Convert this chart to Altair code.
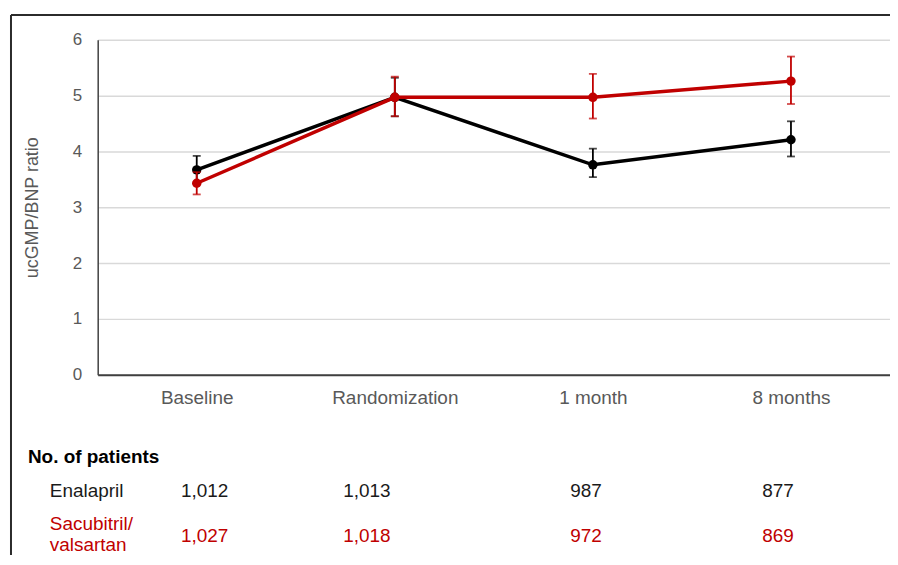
import altair as alt
import pandas as pd

# ---- data ----
timepoints = ["Baseline", "Randomization", "1 month", "8 months"]
groups = ["Enalapril", "Sacubitril/valsartan"]
colors = ["#000000", "#c00000"]

enal_mean = [3.67, 4.97, 3.76, 4.21]
enal_lo = [3.43, 4.63, 3.54, 3.91]
enal_hi = [3.92, 5.32, 4.05, 4.54]

sv_mean = [3.43, 4.97, 4.97, 5.26]
sv_lo = [3.23, 4.63, 4.59, 4.85]
sv_hi = [3.63, 5.34, 5.39, 5.70]

enal_n = ["1,012", "1,013", "987", "877"]
sv_n = ["1,027", "1,018", "972", "869"]

table_title = "No. of patients"
row_labels = ["Enalapril", "Sacubitril/\nvalsartan"]
y_ticks = [0, 1, 2, 3, 4, 5, 6]

# ---- build tables ----
rows = []
for g, m, lo, hi, n in [
    (groups[0], enal_mean, enal_lo, enal_hi, enal_n),
    (groups[1], sv_mean, sv_lo, sv_hi, sv_n),
]:
    for i, t in enumerate(timepoints):
        rows.append({"time": t, "group": g, "mean": m[i], "lo": lo[i], "hi": hi[i], "n": n[i]})
df = pd.DataFrame(rows)

FONT = "Liberation Sans"
W, H = 795, 336
GRAY = "#595959"

xenc = alt.X(
    "time:N",
    sort=timepoints,
    scale=alt.Scale(type="point", domain=timepoints, padding=0.5),
    axis=alt.Axis(
        title=None, labelAngle=0, ticks=False, grid=False,
        domainColor="#404040", domainWidth=2,
        labelFontSize=19, labelColor=GRAY, labelPadding=14, labelFont=FONT,
    ),
)

def yenc(field):
    return alt.Y(
        f"{field}:Q",
        scale=alt.Scale(domain=[0, 6], nice=False),
        axis=alt.Axis(
            title="ucGMP/BNP ratio", values=y_ticks, ticks=False,
            grid=True, gridColor="#d9d9d9", gridWidth=1.5,
            domainColor="#404040", domainWidth=1.5,
            labelFontSize=17, labelColor=GRAY, labelPadding=16, labelFont=FONT,
            titleFontSize=18, titleColor=GRAY, titleFontWeight="normal", titleFont=FONT,
            titleAngle=270, titleX=-65, titleY=H / 2, titleAlign="center", titleBaseline="middle",
        ),
    )

base = alt.Chart(df)
layers = []
for g, c in zip(groups, colors):
    sub = base.transform_filter(alt.datum.group == g)
    layers.append(
        sub.mark_rule(color=c, strokeWidth=1.8).encode(x=xenc, y=yenc("lo"), y2="hi:Q")
    )
    layers.append(
        sub.mark_tick(color=c, size=8, thickness=1.8, orient="horizontal").encode(x=xenc, y=yenc("lo"))
    )
    layers.append(
        sub.mark_tick(color=c, size=8, thickness=1.8, orient="horizontal").encode(x=xenc, y=yenc("hi"))
    )
    layers.append(
        sub.mark_line(color=c, strokeWidth=3.5).encode(x=xenc, y=yenc("mean"))
    )
    layers.append(
        sub.mark_point(color=c, filled=True, opacity=1, size=90).encode(x=xenc, y=yenc("mean"))
    )

# ---- patient-number table below the plot ----
num_dx = [8, -28, -7, -13]   # column offsets (layout)
row_y = [453, 498]           # row centres (layout)
label_y = [453, 486]         # first-line centres of the row labels (layout)
for gi, (g, c) in enumerate(zip(groups, colors)):
    for ti, t in enumerate(timepoints):
        layers.append(
            base.transform_filter((alt.datum.group == g) & (alt.datum.time == t))
            .mark_text(font=FONT, fontSize=19, color=c if gi else "#1a1a1a", baseline="middle", dx=num_dx[ti])
            .encode(x=xenc, y=alt.value(row_y[gi]), text="n:N")
        )

layers.append(
    alt.Chart(pd.DataFrame({"t": [table_title]}))
    .mark_text(font=FONT, fontSize=19, fontWeight="bold", color="#000000", align="left", baseline="middle")
    .encode(x=alt.value(-70), y=alt.value(419), text="t:N")
)
for gi, (lab, c) in enumerate(zip(row_labels, colors)):
    layers.append(
        alt.Chart(pd.DataFrame({"t": [lab]}))
        .mark_text(font=FONT, fontSize=19, color=c if gi else "#1a1a1a", align="left",
                   baseline="middle", lineBreak="\n", lineHeight=21)
        .encode(x=alt.value(-48), y=alt.value(label_y[gi]), text="t:N")
    )

# ---- frame around the figure ----
frame = pd.DataFrame({"k": [0]})
layers.append(
    alt.Chart(frame).mark_rule(color="#2b2b2b", strokeWidth=2)
    .encode(x=alt.value(-87), x2=alt.value(W + 5), y=alt.value(-25))
)
layers.append(
    alt.Chart(frame).mark_rule(color="#2b2b2b", strokeWidth=2)
    .encode(x=alt.value(-87), y=alt.value(-25), y2=alt.value(H + 181))
)

chart = (
    alt.layer(*layers)
    .properties(
        width=W, height=H,
        padding={"left": 90, "top": 31, "right": 0, "bottom": 181},
        autosize=alt.AutoSizeParams(type="none"),
        background="white",
    )
    .configure_view(stroke=None)
)

chart.save("out.html", embed_options={"renderer": "svg", "actions": False})
